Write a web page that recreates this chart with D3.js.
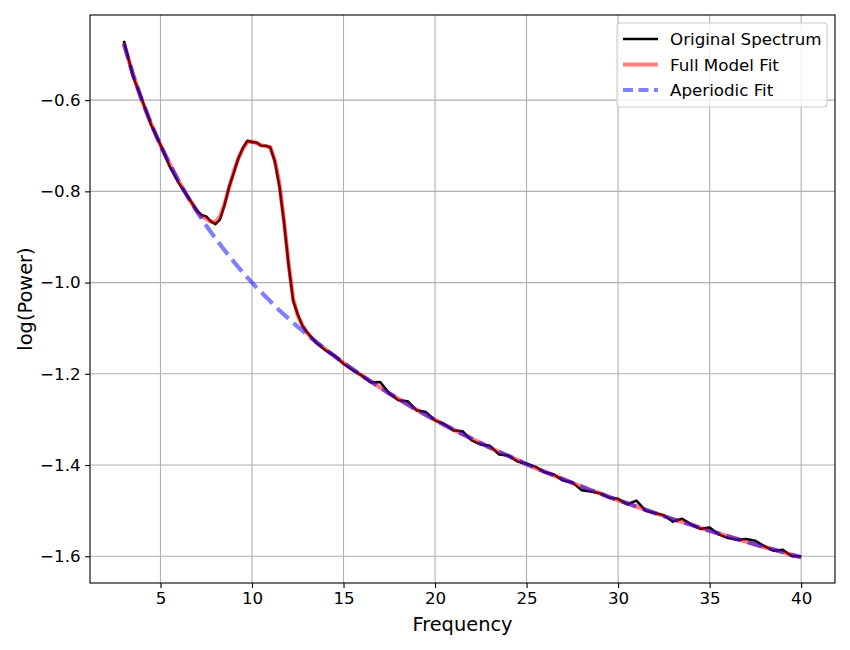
<!DOCTYPE html>
<html>
<head>
<meta charset="utf-8">
<script src="https://cdn.jsdelivr.net/npm/d3@7"></script>
<style>
    body { margin: 0; background: #fff; }
    svg text { font-family: "DejaVu Sans", sans-serif; fill: #000; }
</style>
</head>
<body>
<div id="chart"></div>
<script>

// frequencies (Hz), finer around the alpha peak
const freqs = [3, 3.5, 4, 4.5, 5, 5.5, 6, 6.5,
    7, 7.25, 7.5, 7.75, 8, 8.25, 8.5, 8.75, 9, 9.25, 9.5, 9.75, 10, 10.25, 10.5, 10.75,
    11, 11.25, 11.5, 11.75, 12, 12.25, 12.5, 12.75, 13, 13.25, 13.5,
    14, 14.5, 15, 15.5, 16, 16.5, 17, 17.5, 18, 18.5, 19, 19.5, 20, 20.5, 21, 21.5, 22, 22.5,
    23, 23.5, 24, 24.5, 25, 25.5, 26, 26.5, 27, 27.5, 28, 28.5, 29, 29.5, 30, 30.5, 31, 31.5, 32, 32.5,
    33, 33.5, 34, 34.5, 35, 35.5, 36, 36.5, 37, 37.5, 38, 38.5, 39, 39.5, 40];

// original power spectrum, log10 power
const spectrum = [-0.470, -0.548, -0.600, -0.655, -0.698, -0.745, -0.782, -0.812,
    -0.843, -0.852, -0.855, -0.866, -0.872, -0.862, -0.830, -0.790, -0.760, -0.728, -0.705, -0.689,
    -0.692, -0.693, -0.700, -0.700, -0.704, -0.735, -0.790, -0.868, -0.962, -1.040, -1.070, -1.094,
    -1.108, -1.120, -1.132,
    -1.148, -1.160, -1.178, -1.192, -1.204, -1.219, -1.218, -1.243,
    -1.258, -1.260, -1.280, -1.284, -1.302, -1.310, -1.324, -1.326, -1.346, -1.355,
    -1.358, -1.377, -1.379, -1.392, -1.397, -1.404, -1.416, -1.421, -1.434, -1.438,
    -1.455, -1.458, -1.462, -1.471, -1.474, -1.486, -1.478, -1.500, -1.505, -1.510,
    -1.524, -1.518, -1.530, -1.540, -1.537, -1.552, -1.560, -1.564, -1.562, -1.566,
    -1.578, -1.588, -1.586, -1.600, -1.600];

// full model fit (aperiodic + peaks)
const modelFit = [-0.475, -0.544, -0.602, -0.653, -0.699, -0.740, -0.778, -0.813,
    -0.843, -0.855, -0.860, -0.866, -0.868, -0.855, -0.828, -0.792, -0.757, -0.728, -0.707, -0.692,
    -0.691, -0.694, -0.699, -0.701, -0.703, -0.732, -0.783, -0.865, -0.958, -1.036, -1.072, -1.094,
    -1.110, -1.121, -1.130,
    -1.146, -1.161, -1.176, -1.190, -1.204, -1.217, -1.230, -1.243,
    -1.255, -1.267, -1.279, -1.290, -1.301, -1.312, -1.322, -1.332, -1.342, -1.352,
    -1.362, -1.371, -1.380, -1.389, -1.398, -1.407, -1.415, -1.423, -1.431, -1.439,
    -1.447, -1.455, -1.462, -1.470, -1.477, -1.484, -1.491, -1.498, -1.505, -1.512,
    -1.519, -1.525, -1.531, -1.538, -1.544, -1.550, -1.556, -1.562, -1.568, -1.574,
    -1.580, -1.585, -1.591, -1.597, -1.602];

// aperiodic component only
const aperiodicFit = [-0.477, -0.544, -0.602, -0.653, -0.699, -0.740, -0.778, -0.813,
    -0.845, -0.860, -0.875, -0.889, -0.903, -0.916, -0.929, -0.942, -0.954, -0.966, -0.978, -0.989,
    -1.000, -1.011, -1.021, -1.031, -1.041, -1.051, -1.061, -1.070, -1.079, -1.088, -1.097, -1.105,
    -1.114, -1.122, -1.130,
    -1.146, -1.161, -1.176, -1.190, -1.204, -1.217, -1.230, -1.243,
    -1.255, -1.267, -1.279, -1.290, -1.301, -1.312, -1.322, -1.332, -1.342, -1.352,
    -1.362, -1.371, -1.380, -1.389, -1.398, -1.407, -1.415, -1.423, -1.431, -1.439,
    -1.447, -1.455, -1.462, -1.470, -1.477, -1.484, -1.491, -1.498, -1.505, -1.512,
    -1.519, -1.525, -1.531, -1.538, -1.544, -1.550, -1.556, -1.562, -1.568, -1.574,
    -1.580, -1.585, -1.591, -1.597, -1.602];

const xTicks = [5, 10, 15, 20, 25, 30, 35, 40];
const yTicks = [-1.6, -1.4, -1.2, -1.0, -0.8, -0.6];
const legendLabels = ["Original Spectrum", "Full Model Fit", "Aperiodic Fit"];


class SpectrumVis {

    constructor(parentElement) {
        this.parentElement = parentElement;
        this.initVis();
    }

    initVis() {
        let vis = this;

        vis.margin = {top: 15, right: 15, bottom: 67, left: 90};
        vis.width = 850 - vis.margin.left - vis.margin.right;
        vis.height = 650 - vis.margin.top - vis.margin.bottom;

        vis.svg = d3.select("#" + vis.parentElement).append("svg")
            .attr("width", 850)
            .attr("height", 650)
            .append("g")
            .attr("transform", `translate(${vis.margin.left}, ${vis.margin.top})`);

        vis.svg.append("clipPath").attr("id", "plotClip")
            .append("rect")
            .attr("width", vis.width)
            .attr("height", vis.height);

        vis.gridG = vis.svg.append("g").attr("class", "grid");
        vis.lineG = vis.svg.append("g").attr("clip-path", "url(#plotClip)");
        vis.xAxisGroup = vis.svg.append("g").attr("transform", `translate(0, ${vis.height})`);
        vis.yAxisGroup = vis.svg.append("g");

        vis.wrangleData();
    }

    wrangleData() {
        let vis = this;

        vis.series = [
            {key: legendLabels[0], values: spectrum, color: "#000000", opacity: 1, width: 2.6, dash: null},
            {key: legendLabels[1], values: modelFit, color: "red", opacity: 0.5, width: 4.2, dash: null},
            {key: legendLabels[2], values: aperiodicFit, color: "blue", opacity: 0.5, width: 4.2, dash: "15.4,6.7"}
        ];
        vis.series.forEach(s => s.points = freqs.map((f, i) => [f, s.values[i]]));

        // matplotlib style 5% margins
        let xExt = d3.extent(freqs);
        let yExt = d3.extent(spectrum.concat(modelFit, aperiodicFit));
        let xPad = (xExt[1] - xExt[0]) * 0.05;
        let yPad = (yExt[1] - yExt[0]) * 0.05;
        vis.xDomain = [xExt[0] - xPad, xExt[1] + xPad];
        vis.yDomain = [yExt[0] - yPad, yExt[1] + yPad];

        vis.updateVis();
    }

    updateVis() {
        let vis = this;

        vis.xScale = d3.scaleLinear().domain(vis.xDomain).range([0, vis.width]);
        vis.yScale = d3.scaleLinear().domain(vis.yDomain).range([vis.height, 0]);

        // grid lines
        vis.gridG.selectAll(".vgrid").data(xTicks).join("line")
            .attr("class", "vgrid")
            .attr("x1", d => vis.xScale(d)).attr("x2", d => vis.xScale(d))
            .attr("y1", 0).attr("y2", vis.height)
            .attr("stroke", "#b0b0b0").attr("stroke-width", 1.1);

        vis.gridG.selectAll(".hgrid").data(yTicks).join("line")
            .attr("class", "hgrid")
            .attr("y1", d => vis.yScale(d)).attr("y2", d => vis.yScale(d))
            .attr("x1", 0).attr("x2", vis.width)
            .attr("stroke", "#b0b0b0").attr("stroke-width", 1.1);

        // lines
        let line = d3.line()
            .x(d => vis.xScale(d[0]))
            .y(d => vis.yScale(d[1]));

        vis.lineG.selectAll("path").data(vis.series).join("path")
            .attr("d", d => line(d.points))
            .attr("fill", "none")
            .attr("stroke", d => d.color)
            .attr("stroke-opacity", d => d.opacity)
            .attr("stroke-width", d => d.width)
            .attr("stroke-dasharray", d => d.dash)
            .attr("stroke-linejoin", "round");

        // frame
        vis.svg.append("rect")
            .attr("width", vis.width).attr("height", vis.height)
            .attr("fill", "none").attr("stroke", "#000").attr("stroke-width", 1.1);

        // axes
        vis.xAxisGroup.call(d3.axisBottom(vis.xScale)
            .tickValues(xTicks).tickSize(4.9).tickPadding(4.5).tickFormat(d3.format("d")));
        vis.yAxisGroup.call(d3.axisLeft(vis.yScale)
            .tickValues(yTicks).tickSize(4.9).tickPadding(4.5).tickFormat(d3.format(".1f")));

        [vis.xAxisGroup, vis.yAxisGroup].forEach(g => {
            g.select(".domain").remove();
            g.selectAll(".tick line").attr("stroke", "#000").attr("stroke-width", 1.1);
            g.selectAll(".tick text")
                .style("font-family", "'DejaVu Sans', sans-serif")
                .style("font-size", "16.7px")
                .attr("fill", "#000");
        });

        // axis labels
        vis.svg.append("text")
            .attr("x", vis.width / 2)
            .attr("y", vis.height + 48)
            .attr("text-anchor", "middle")
            .style("font-size", "19.4px")
            .text("Frequency");

        vis.svg.append("text")
            .attr("transform", `translate(${-58}, ${vis.height / 2}) rotate(-90)`)
            .attr("text-anchor", "middle")
            .style("font-size", "19.4px")
            .text("log(Power)");

        // legend
        vis.legendG = vis.svg.append("g")
            .attr("transform", `translate(${vis.width - 218}, 8)`);

        vis.legendG.append("rect")
            .attr("width", 210).attr("height", 84)
            .attr("rx", 3).attr("ry", 3)
            .attr("fill", "#fff").attr("fill-opacity", 0.8)
            .attr("stroke", "#cccccc").attr("stroke-width", 1.1);

        let rows = vis.legendG.selectAll(".legend-row").data(vis.series).join("g")
            .attr("class", "legend-row")
            .attr("transform", (d, i) => `translate(6, ${16 + i * 25.5})`);

        rows.append("line")
            .attr("x1", 0).attr("x2", 35)
            .attr("stroke", d => d.color)
            .attr("stroke-opacity", d => d.opacity)
            .attr("stroke-width", d => d.width)
            .attr("stroke-dasharray", d => d.dash ? "10,5.5" : null);

        rows.append("text")
            .attr("x", 47)
            .attr("dy", "0.36em")
            .style("font-size", "16.7px")
            .text(d => d.key);
    }
}

let mySpectrumVis = new SpectrumVis("chart");

</script>
</body>
</html>
